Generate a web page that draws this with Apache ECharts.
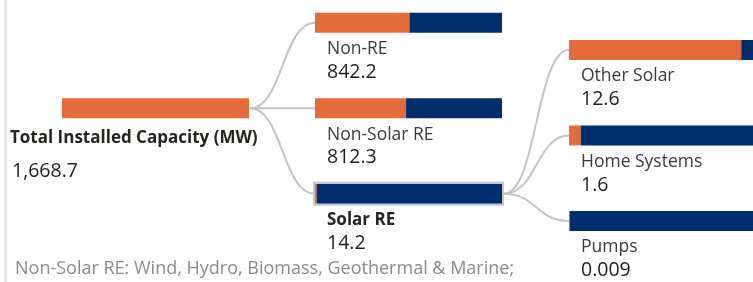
<!DOCTYPE html>
<html><head><meta charset="utf-8">
<script src="https://cdn.jsdelivr.net/npm/echarts@6/dist/echarts.min.js"></script>
<style>html,body{margin:0;padding:0;background:#fff;}#c{width:753px;height:282px;}</style>
</head><body><div id="c"></div>
<script>
// ---- data ----
const rootNames = ['Total Installed Capacity (MW)'];
const rootValues = [1668.7];
const rootShare = [100];
const level2Names = ['Non-RE', 'Non-Solar RE', 'Solar RE'];
const level2Values = [842.2, 812.3, 14.2];
const level2Share = [50.5, 48.7, 0.9];
const level3Names = ['Other Solar', 'Home Systems', 'Pumps'];
const level3Values = [12.6, 1.6, 0.009];
const level3Share = [93.6, 6.4, 0.5];
const expandedIndex = 2; // Solar RE is expanded
const footnote = 'Non-Solar RE: Wind, Hydro, Biomass, Geothermal & Marine;';

// ---- styles ----
const ORANGE = '#E46C3A', NAVY = '#002D6E';
const FONT = 'Open Sans';
function fmt(v) {
  return v >= 1000 ? v.toLocaleString('en-US', {minimumFractionDigits: 1, maximumFractionDigits: 1}) : String(v);
}
const rich = {
  n:  {fontFamily: FONT, fontSize: 17.5, color: '#3b3a39', lineHeight: 22},
  nb: {fontFamily: FONT, fontSize: 17, fontWeight: 'bold', color: '#252423', lineHeight: 22},
  v:  {fontFamily: FONT, fontSize: 19.5, color: '#1f1e1d', lineHeight: 24},
  rv: {fontFamily: FONT, fontSize: 19.5, color: '#1f1e1d', lineHeight: 45, padding: [0, 0, 0, 2]}
};

const chart = echarts.init(document.getElementById('c'), null, {renderer: 'canvas'});

function levelSeries(gi, names, values, share, opts) {
  const lab = {
    show: true, position: opts.pos, align: 'left', verticalAlign: 'top', rich: rich,
    formatter: p => {
      const i = p.dataIndex;
      const nStyle = opts.bold && opts.bold(i) ? 'nb' : 'n';
      return '{' + nStyle + '|' + names[i] + '}\n{' + opts.vStyle + '|' + fmt(values[i]) + '}';
    }
  };
  return [
    {type: 'bar', xAxisIndex: gi, yAxisIndex: gi, stack: 's' + gi, barWidth: 20,
     itemStyle: {color: ORANGE}, data: share.slice(), label: lab, silent: true},
    {type: 'bar', xAxisIndex: gi, yAxisIndex: gi, stack: 's' + gi, barWidth: 20,
     itemStyle: {color: NAVY}, data: share.map(s => 100 - s), silent: true}
  ];
}

const band = 85.5;
const grids = [
  {left: 62, width: 187, top: 108.3 - band / 2, height: band},
  {left: 315, width: 187, top: 22.8, height: band * 2},
  {left: 569, width: 187, top: 50, height: band * 2}
];
const cats = [rootNames, level2Names, level3Names];

chart.setOption({
  animation: false,
  grid: grids,
  xAxis: grids.map((g, i) => ({type: 'value', gridIndex: i, min: 0, max: 100, show: false})),
  yAxis: grids.map((g, i) => ({type: 'category', gridIndex: i, data: cats[i], inverse: true, show: false,
                               boundaryGap: i === 0})),
  series: [].concat(
    levelSeries(0, rootNames, rootValues, rootShare, {pos: [-52, 29], vStyle: 'rv', bold: () => true}),
    levelSeries(1, level2Names, level2Values, level2Share, {pos: [12, 25.5], vStyle: 'v', bold: i => i === expandedIndex}),
    levelSeries(2, level3Names, level3Values, level3Share, {pos: [12, 25.5], vStyle: 'v'})
  )
});

// connectors + selection frame derived from the axes
const graphics = [];
graphics.push({type: 'rect', shape: {x: 4, y: 0, width: 3, height: 282}, style: {fill: '#e8e8e8'}, silent: true});
function curve(a, b) {
  const mx = (a[0] + b[0]) / 2;
  return {type: 'bezierCurve', z: -1, silent: true,
    shape: {x1: a[0], y1: a[1], x2: b[0], y2: b[1], cpx1: mx, cpy1: a[1], cpx2: mx, cpy2: b[1]},
    style: {stroke: '#c4c4c4', lineWidth: 2, fill: null}};
}
const rootRight = chart.convertToPixel({gridIndex: 0}, [100, 0]);
level2Names.forEach((n, i) => {
  const p = chart.convertToPixel({gridIndex: 1}, [0, i]);
  graphics.push(curve([rootRight[0] + 1, rootRight[1]], p));
});
const expRight = chart.convertToPixel({gridIndex: 1}, [100, expandedIndex]);
const expLeft = chart.convertToPixel({gridIndex: 1}, [0, expandedIndex]);
level3Names.forEach((n, i) => {
  const p = chart.convertToPixel({gridIndex: 2}, [0, i]);
  graphics.push(curve([expRight[0] + 2, expRight[1]], p));
});
graphics.push({type: 'rect', silent: true, z: 10,
  shape: {x: expLeft[0] - 1, y: expLeft[1] - 11, width: expRight[0] - expLeft[0] + 2, height: 22},
  style: {fill: null, stroke: '#c8c8c8', lineWidth: 2}});
graphics.push({type: 'text', left: 15, top: 260, silent: true,
  style: {text: footnote, font: '18px "Open Sans"', fill: '#8a8a8a'}});
chart.setOption({graphic: graphics});
</script>
</body></html>
